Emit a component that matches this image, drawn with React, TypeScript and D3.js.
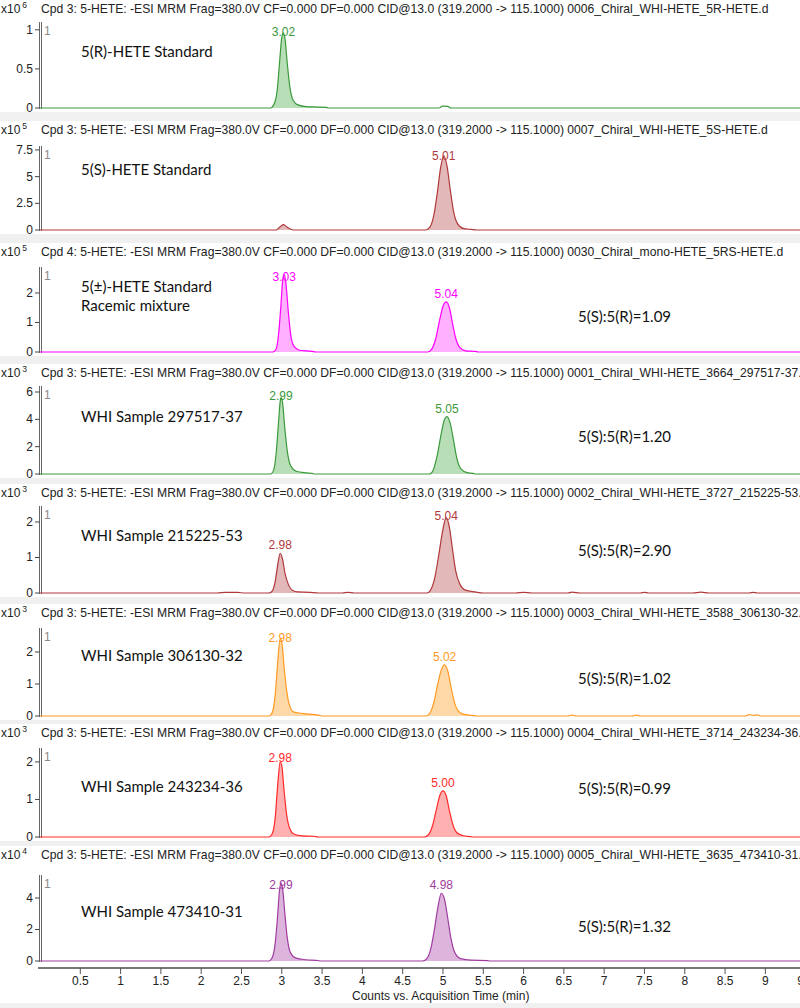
import React from 'react';
import * as d3 from 'd3';

// ---------------- DATA ----------------
const xTickValues = [0.5, 1, 1.5, 2, 2.5, 3, 3.5, 4, 4.5, 5, 5.5, 6, 6.5, 7, 7.5, 8, 8.5, 9, 9.5];
const xTickLabels = ['0.5', '1', '1.5', '2', '2.5', '3', '3.5', '4', '4.5', '5', '5.5', '6', '6.5', '7', '7.5', '8', '8.5', '9', '9.5'];
const xAxisTitle = 'Counts vs. Acquisition Time (min)';

const titlePrefix = ': 5-HETE: -ESI MRM Frag=380.0V CF=0.000 DF=0.000 CID@13.0 (319.2000 -> 115.1000) ';
const panelCpd = ['Cpd 3', 'Cpd 3', 'Cpd 4', 'Cpd 3', 'Cpd 3', 'Cpd 3', 'Cpd 3', 'Cpd 3'];
const panelFiles = [
  '0006_Chiral_WHI-HETE_5R-HETE.d',
  '0007_Chiral_WHI-HETE_5S-HETE.d',
  '0030_Chiral_mono-HETE_5RS-HETE.d',
  '0001_Chiral_WHI-HETE_3664_297517-37.d',
  '0002_Chiral_WHI-HETE_3727_215225-53.d',
  '0003_Chiral_WHI-HETE_3588_306130-32.d',
  '0004_Chiral_WHI-HETE_3714_243234-36.d',
  '0005_Chiral_WHI-HETE_3635_473410-31.d',
];
const panelExponents = ['6', '5', '5', '3', '3', '3', '3', '4'];
const panelYMax = [1.1, 7.87, 2.88, 6.44, 2.45, 2.75, 2.37, 5.46];
const panelYTicks = [
  [0, 0.5, 1],
  [0, 2.5, 5, 7.5],
  [0, 1, 2],
  [0, 2, 4, 6],
  [0, 1, 2],
  [0, 1, 2],
  [0, 1, 2],
  [0, 2, 4],
];
const panelYTickLabels = [
  ['0', '0.5', '1'],
  ['0', '2.5', '5', '7.5'],
  ['0', '1', '2'],
  ['0', '2', '4', '6'],
  ['0', '1', '2'],
  ['0', '1', '2'],
  ['0', '1', '2'],
  ['0', '2', '4'],
];
const sampleLabels = [
  ['5(R)-HETE Standard'],
  ['5(S)-HETE Standard'],
  ['5(\u00b1)-HETE Standard', 'Racemic mixture'],
  ['WHI Sample 297517-37'],
  ['WHI Sample 215225-53'],
  ['WHI Sample 306130-32'],
  ['WHI Sample 243234-36'],
  ['WHI Sample 473410-31'],
];
const ratioLabels = ['', '', '5(S):5(R)=1.09', '5(S):5(R)=1.20', '5(S):5(R)=2.90', '5(S):5(R)=1.02', '5(S):5(R)=0.99', '5(S):5(R)=1.32'];

// peak retention-time labels per panel (one per labelled peak)
const peakRtLabels = [
  ['3.02'],
  ['5.01'],
  ['3.03', '5.04'],
  ['2.99', '5.05'],
  ['2.98', '5.04'],
  ['2.98', '5.02'],
  ['2.98', '5.00'],
  ['2.99', '4.98'],
];
// which peak (index into panel's peaks) each label belongs to
const peakLabelIndex = [[0], [1], [0, 1], [0, 1], [0, 1], [0, 1], [0, 1], [0, 1]];

// chromatogram peaks: [time (min), intensity (panel units)]
const p1Peaks: number[][][] = [
  [[2.86, 0], [2.9, 0.04], [2.94, 0.2], [2.97, 0.55], [3.0, 0.9], [3.02, 0.96], [3.04, 0.88], [3.07, 0.55], [3.1, 0.27], [3.14, 0.1], [3.2, 0.04], [3.3, 0.018], [3.45, 0.012], [3.55, 0.008], [3.58, 0]],
];
const p2Peaks: number[][][] = [
  [[2.93, 0], [2.98, 0.3], [3.02, 0.5], [3.06, 0.3], [3.12, 0.05], [3.16, 0]],
  [[4.78, 0], [4.84, 0.3], [4.89, 1.5], [4.93, 3.5], [4.97, 5.8], [5.01, 6.95], [5.05, 6.0], [5.09, 3.8], [5.13, 1.8], [5.18, 0.6], [5.25, 0.15], [5.35, 0.05], [5.42, 0]],
];
const p3Peaks: number[][][] = [
  [[2.89, 0], [2.93, 0.1], [2.96, 0.6], [2.99, 1.6], [3.01, 2.4], [3.03, 2.62], [3.05, 2.35], [3.08, 1.4], [3.11, 0.6], [3.15, 0.2], [3.22, 0.06], [3.38, 0.02], [3.42, 0]],
  [[4.81, 0], [4.86, 0.1], [4.91, 0.45], [4.96, 1.1], [5.0, 1.55], [5.04, 1.7], [5.08, 1.5], [5.12, 0.95], [5.16, 0.45], [5.21, 0.15], [5.28, 0.04], [5.4, 0.02], [5.44, 0]],
];
const p4Peaks: number[][][] = [
  [[2.86, 0], [2.9, 0.3], [2.93, 1.5], [2.96, 3.8], [2.98, 5.3], [2.99, 5.6], [3.01, 5.2], [3.04, 3.2], [3.07, 1.6], [3.11, 0.6], [3.18, 0.2], [3.3, 0.08], [3.38, 0.04], [3.4, 0]],
  [[4.83, 0], [4.88, 0.3], [4.93, 1.4], [4.98, 3.0], [5.02, 4.0], [5.05, 4.2], [5.09, 3.7], [5.13, 2.5], [5.17, 1.2], [5.22, 0.4], [5.3, 0.1], [5.38, 0.04], [5.4, 0]],
];
const p5Peaks: number[][][] = [
  [[2.84, 0], [2.88, 0.05], [2.92, 0.35], [2.95, 0.8], [2.98, 1.12], [3.01, 0.95], [3.04, 0.55], [3.08, 0.25], [3.13, 0.08], [3.2, 0.03], [3.35, 0.02], [3.45, 0]],
  [[4.8, 0], [4.85, 0.1], [4.9, 0.45], [4.95, 1.1], [5.0, 1.8], [5.04, 2.12], [5.08, 1.85], [5.12, 1.2], [5.16, 0.6], [5.21, 0.25], [5.28, 0.08], [5.4, 0.03], [5.5, 0]],
];
const p6Peaks: number[][][] = [
  [[2.84, 0], [2.88, 0.1], [2.92, 0.7], [2.95, 1.7], [2.98, 2.42], [3.0, 2.3], [3.03, 1.5], [3.06, 0.8], [3.1, 0.3], [3.15, 0.12], [3.25, 0.08], [3.35, 0.06], [3.45, 0.03], [3.52, 0]],
  [[4.79, 0], [4.84, 0.1], [4.89, 0.45], [4.94, 1.05], [4.98, 1.45], [5.02, 1.6], [5.06, 1.4], [5.1, 0.9], [5.14, 0.45], [5.19, 0.15], [5.26, 0.05], [5.36, 0.02], [5.42, 0]],
];
const p7Peaks: number[][][] = [
  [[2.84, 0], [2.88, 0.08], [2.92, 0.55], [2.95, 1.4], [2.98, 2.0], [3.0, 1.9], [3.03, 1.2], [3.06, 0.6], [3.1, 0.22], [3.15, 0.08], [3.25, 0.03], [3.4, 0.02], [3.45, 0]],
  [[4.77, 0], [4.82, 0.06], [4.87, 0.3], [4.92, 0.75], [4.96, 1.1], [5.0, 1.23], [5.04, 1.1], [5.08, 0.7], [5.12, 0.35], [5.17, 0.12], [5.24, 0.04], [5.34, 0.01], [5.38, 0]],
];
const p8Peaks: number[][][] = [
  [[2.84, 0], [2.88, 0.2], [2.92, 1.2], [2.95, 3.0], [2.97, 4.4], [2.99, 4.95], [3.01, 4.6], [3.04, 2.9], [3.07, 1.4], [3.11, 0.5], [3.17, 0.2], [3.3, 0.08], [3.45, 0.03], [3.48, 0]],
  [[4.75, 0], [4.8, 0.15], [4.85, 0.8], [4.9, 2.2], [4.94, 3.5], [4.98, 4.3], [5.02, 3.9], [5.06, 2.7], [5.1, 1.4], [5.15, 0.5], [5.22, 0.15], [5.35, 0.05], [5.55, 0.03], [5.58, 0]],
];

// small baseline features outside the peaks
const p1Noise = [[4.95, 0], [5.0, 0.025], [5.06, 0.02], [5.1, 0]];
const p2Noise: number[][] = [];
const p3Noise: number[][] = [];
const p4Noise: number[][] = [];
const p5Noise = [[2.2, 0], [2.3, 0.02], [2.45, 0.015], [2.55, 0], [3.75, 0], [3.82, 0.02], [3.9, 0], [5.9, 0], [6.0, 0.02], [6.1, 0], [6.55, 0], [6.6, 0.025], [6.7, 0], [7.45, 0], [7.5, 0.02], [7.55, 0], [8.1, 0], [8.2, 0.025], [8.3, 0], [8.8, 0], [8.85, 0.02], [8.9, 0]];
const p6Noise = [[6.55, 0], [6.6, 0.03], [6.65, 0], [7.35, 0], [7.4, 0.025], [7.45, 0], [8.75, 0], [8.8, 0.04], [8.85, 0.02], [8.9, 0.035], [8.95, 0]];
const p7Noise: number[][] = [];
const p8Noise: number[][] = [];

const panelPeaks = [p1Peaks, p2Peaks, p3Peaks, p4Peaks, p5Peaks, p6Peaks, p7Peaks, p8Peaks];
const panelNoise = [p1Noise, p2Noise, p3Noise, p4Noise, p5Noise, p6Noise, p7Noise, p8Noise];

// ---------------- STYLE / LAYOUT ----------------
const panelColors = ['#3a9a3a', '#b0393c', '#ff00ff', '#3a9a3a', '#b0393c', '#ff9a22', '#ff2a2a', '#a03ca0'];
const panelFills = ['#b8deb8', '#e2b8b8', '#ffb0ff', '#b8deb8', '#e2b8b8', '#ffd8a8', '#ffb0b0', '#dcb4dc'];

const W = 800;
const H = 1008;
const X0 = 40;
const X_RIGHT = 800;
const X_DOMAIN_MAX = 9.43;
const titleY = [9, 130, 252, 373, 493, 613, 733, 855];
const plotTop = [22, 146, 267, 386, 506, 628, 748, 875];
const baseY = [108, 230, 352, 474, 593, 716, 837, 961];
const sampleY = [[51], [169], [286, 305], [416], [535], [655], [786], [911]];
const ratioY = [0, 0, 316, 436, 550, 678, 788, 926];
const X_AXIS_Y = 968;

const SANS = '"Liberation Sans", Arial, sans-serif';
const ANNOT = 'Lato, "Open Sans", sans-serif';

export default function App() {
  const x = d3.scaleLinear().domain([0, X_DOMAIN_MAX]).range([X0, X_RIGHT]);

  const panels = panelPeaks.map((peaks, i) => {
    const y = d3.scaleLinear().domain([0, panelYMax[i]]).range([baseY[i], plotTop[i]]);
    const pts: number[][] = [[0, 0], ...panelNoise[i], ...peaks.flat(), [X_DOMAIN_MAX + 0.2, 0]];
    pts.sort((a, b) => a[0] - b[0]);
    const line = d3.line<number[]>().x(d => x(d[0])).y(d => y(d[1])).curve(d3.curveMonotoneX);
    const area = d3.area<number[]>().x(d => x(d[0])).y0(baseY[i]).y1(d => y(d[1])).curve(d3.curveMonotoneX);
    const boxTop = i === 0 ? 0 : titleY[i] - 9;
    const boxBottom = i === panelPeaks.length - 1 ? 1003 : baseY[i] + 4;
    const color = panelColors[i];
    return (
      <g key={i}>
        <rect x={0} y={boxTop} width={W} height={boxBottom - boxTop} fill="#ffffff" />
        {/* exponent */}
        <text x={1} y={titleY[i] + 4} fontFamily={SANS} fontSize={12} fill="#222">
          x10<tspan fontSize={8.5} dy={-5} dx={2}>{panelExponents[i]}</tspan>
        </text>
        {/* title */}
        <text x={41} y={titleY[i] + 4} fontFamily={SANS} fontSize={12.15} fill="#222">
          {panelCpd[i] + titlePrefix + panelFiles[i]}
        </text>
        {/* y axis double line */}
        <line x1={39.5} x2={39.5} y1={plotTop[i]} y2={baseY[i] + 1} stroke="#666" strokeWidth={1} />
        <line x1={41.5} x2={41.5} y1={plotTop[i]} y2={baseY[i] + 1} stroke="#666" strokeWidth={1} />
        {panelYTicks[i].map((t, k) => (
          <g key={k}>
            <line x1={35} x2={39.5} y1={y(t)} y2={y(t)} stroke="#444" strokeWidth={1} />
            <text x={33} y={y(t)} textAnchor="end" dominantBaseline="central" fontFamily={SANS} fontSize={12} fill="#222">
              {panelYTickLabels[i][k]}
            </text>
          </g>
        ))}
        <text x={44} y={plotTop[i] + 9} dominantBaseline="central" fontFamily={SANS} fontSize={12} fill="#8a8a8a">1</text>
        {/* fills */}
        {peaks.map((pk, k) => (
          <path key={k} d={area(pk) || ''} fill={panelFills[i]} stroke="none" />
        ))}
        <path d={line(pts) || ''} fill="none" stroke={color} strokeWidth={1.2} />
        {/* peak labels */}
        {peakRtLabels[i].map((lab, k) => {
          const pk = peaks[peakLabelIndex[i][k]];
          const apex = pk.reduce((a, b) => (b[1] > a[1] ? b : a));
          const by = Math.max(y(apex[1]) - 4, plotTop[i] + 14);
          return (
            <text key={k} x={x(apex[0])} y={by} textAnchor="middle" fontFamily={SANS} fontSize={12} fill={color}>
              {lab}
            </text>
          );
        })}
        {/* annotations */}
        {sampleLabels[i].map((s, k) => (
          <text key={k} x={81} y={sampleY[i][k]} dominantBaseline="central" fontFamily={ANNOT} fontSize={15} fill="#111">
            {s}
          </text>
        ))}
        {ratioLabels[i] && (
          <text x={578} y={ratioY[i]} dominantBaseline="central" fontFamily={ANNOT} fontSize={15} fill="#111">
            {ratioLabels[i]}
          </text>
        )}
      </g>
    );
  });

  return (
    <svg width={W} height={H} style={{ position: 'absolute', left: 0, top: 0, display: 'block' }}>
      <rect x={0} y={0} width={W} height={H} fill="#f0f0f0" />
      {panels}
      {/* x axis */}
      <line x1={38} x2={X_RIGHT} y1={X_AXIS_Y} y2={X_AXIS_Y} stroke="#777" strokeWidth={2} />
      {xTickValues.map((t, k) => (
        <g key={k}>
          <line x1={x(t)} x2={x(t)} y1={X_AXIS_Y} y2={X_AXIS_Y + 6} stroke="#555" strokeWidth={1} />
          <text x={x(t)} y={X_AXIS_Y + 13} textAnchor="middle" dominantBaseline="central" fontFamily={SANS} fontSize={12} fill="#222">
            {xTickLabels[k]}
          </text>
        </g>
      ))}
      <text x={352} y={996} dominantBaseline="central" fontFamily={SANS} fontSize={12} fill="#222">{xAxisTitle}</text>
    </svg>
  );
}
